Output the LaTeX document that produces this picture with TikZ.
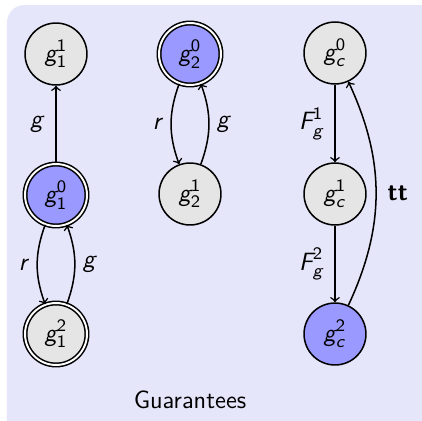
\documentclass[tikz,border=0pt]{standalone}
\usepackage{amsmath}
\definecolor{bgcol}{RGB}{230,230,250}
\newcommand{\gv}[3]{\ensuremath{\textsf{\itshape #1}^{\textsf{#2}}_{\textsf{#3}}}}
\newcommand{\iv}[1]{\textsf{\itshape #1}}
\begin{document}
\begin{tikzpicture}[x=0.46pt,y=-0.46pt,font=\sffamily\fontsize{11.5}{14}\selectfont,
  stnode/.style={circle, draw, line width=0.7pt, fill=gray!20, minimum size=28.5pt, inner sep=0pt},
  accnode/.style={stnode, double, double distance=0.9pt},
  initc/.style={fill=blue!40},
  tr/.style={->, line width=0.7pt}]
\useasboundingbox (0,0) rectangle (422,421);
\begin{scope}
\clip (0,0) rectangle (422,421);
\fill[bgcol, rounded corners=8] (7,5) rectangle (450,450);
\end{scope}
% column 1
\node[stnode] (a1) at (56,54) {\gv{g}{1}{1}};
\node[accnode, initc] (a0) at (56,195) {\gv{g}{0}{1}};
\node[accnode] (a2) at (56,334) {\gv{g}{2}{1}};
% column 2
\node[accnode, initc] (b0) at (190,54) {\gv{g}{0}{2}};
\node[stnode] (b1) at (190,194) {\gv{g}{1}{2}};
% column 3
\node[stnode] (c0) at (335,53) {\gv{g}{0}{\itshape c}};
\node[stnode] (c1) at (335,194) {\gv{g}{1}{\itshape c}};
\node[stnode, initc] (c2) at (335,334) {\gv{g}{2}{\itshape c}};
% edges
\draw[tr] (a0) -- node[left, inner sep=5pt] {\iv{g}} (a1);
\draw[tr] (a0) to[bend right=20] node[left] {\iv{r}} (a2);
\draw[tr] (a2) to[bend right=20] node[right] {\iv{g}} (a0);
\draw[tr] (b0) to[bend right=20] node[left] {\iv{r}} (b1);
\draw[tr] (b1) to[bend right=20] node[right] {\iv{g}} (b0);
\draw[tr] (c0) -- node[left, inner sep=5pt] {\gv{F}{1}{\itshape g}} (c1);
\draw[tr] (c1) -- node[left, inner sep=5pt] {\gv{F}{2}{\itshape g}} (c2);
\draw[tr] (c2) to[bend right=25] node[right, inner sep=5pt] {\textbf{tt}} (c0);
\node (lbl) at (190,400) {Guarantees};
\end{tikzpicture}
\end{document}
